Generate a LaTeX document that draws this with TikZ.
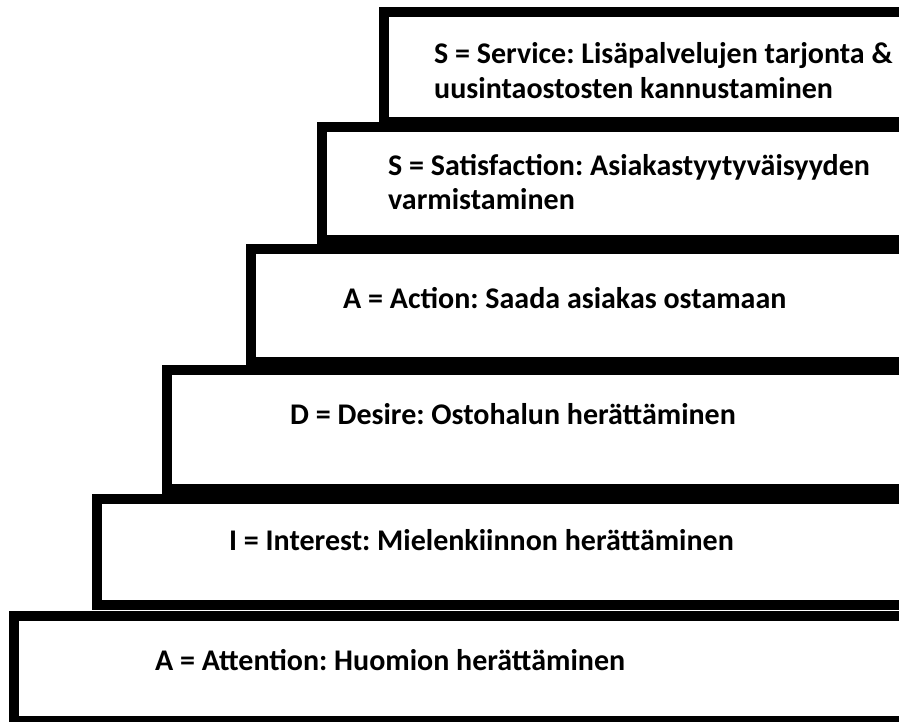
\documentclass[tikz,border=0pt]{standalone}
\usepackage{fontspec}
\setmainfont{Carlito}
\usetikzlibrary{positioning}

\begin{document}
\frenchspacing
\begin{tikzpicture}[
    x=1pt, y=-1pt,
    inner sep=0pt, %text sits right on its coordinate
    stair/.style={draw=black,line width=10pt,fill=white},
    lbl/.style={anchor=base west,align=left,
        font=\fontsize{30}{35}\selectfont\bfseries},
    ]
    \clip (0,0) rectangle (899,722);
    \fill[white] (0,0) rectangle (899,722);
    % the six steps, top one first
    \draw[stair] (384,12) rectangle (930,122);
    \draw[stair] (322,127) rectangle (930,240);
    \draw[stair] (250.5,249) rectangle (930,362);
    \draw[stair] (167,370) rectangle (930,489);
    \draw[stair] (96.5,499) rectangle (930,605);
    \draw[stair] (13.5,616) rectangle (930,721);
    % labels, base of the last line at the coordinate
    \node[lbl] (service) at (434,99)
        {S = Service: Lisäpalvelujen tarjonta \&\\uusintaostosten kannustaminen};
    \node[lbl] (satisf) at (388,210)
        {S = Satisfaction: Asiakastyytyväisyyden\\varmistaminen};
    \node[lbl] (action) at (343,308) {A = Action: Saada asiakas ostamaan};
    \node[lbl] (desire) at (290,424) {D = Desire: Ostohalun herättäminen};
    \node[lbl] (interest) at (229,550) {I = Interest: Mielenkiinnon herättäminen};
    \node[lbl] (attention) at (155,670) {A = Attention: Huomion herättäminen};
\end{tikzpicture}
\end{document}
